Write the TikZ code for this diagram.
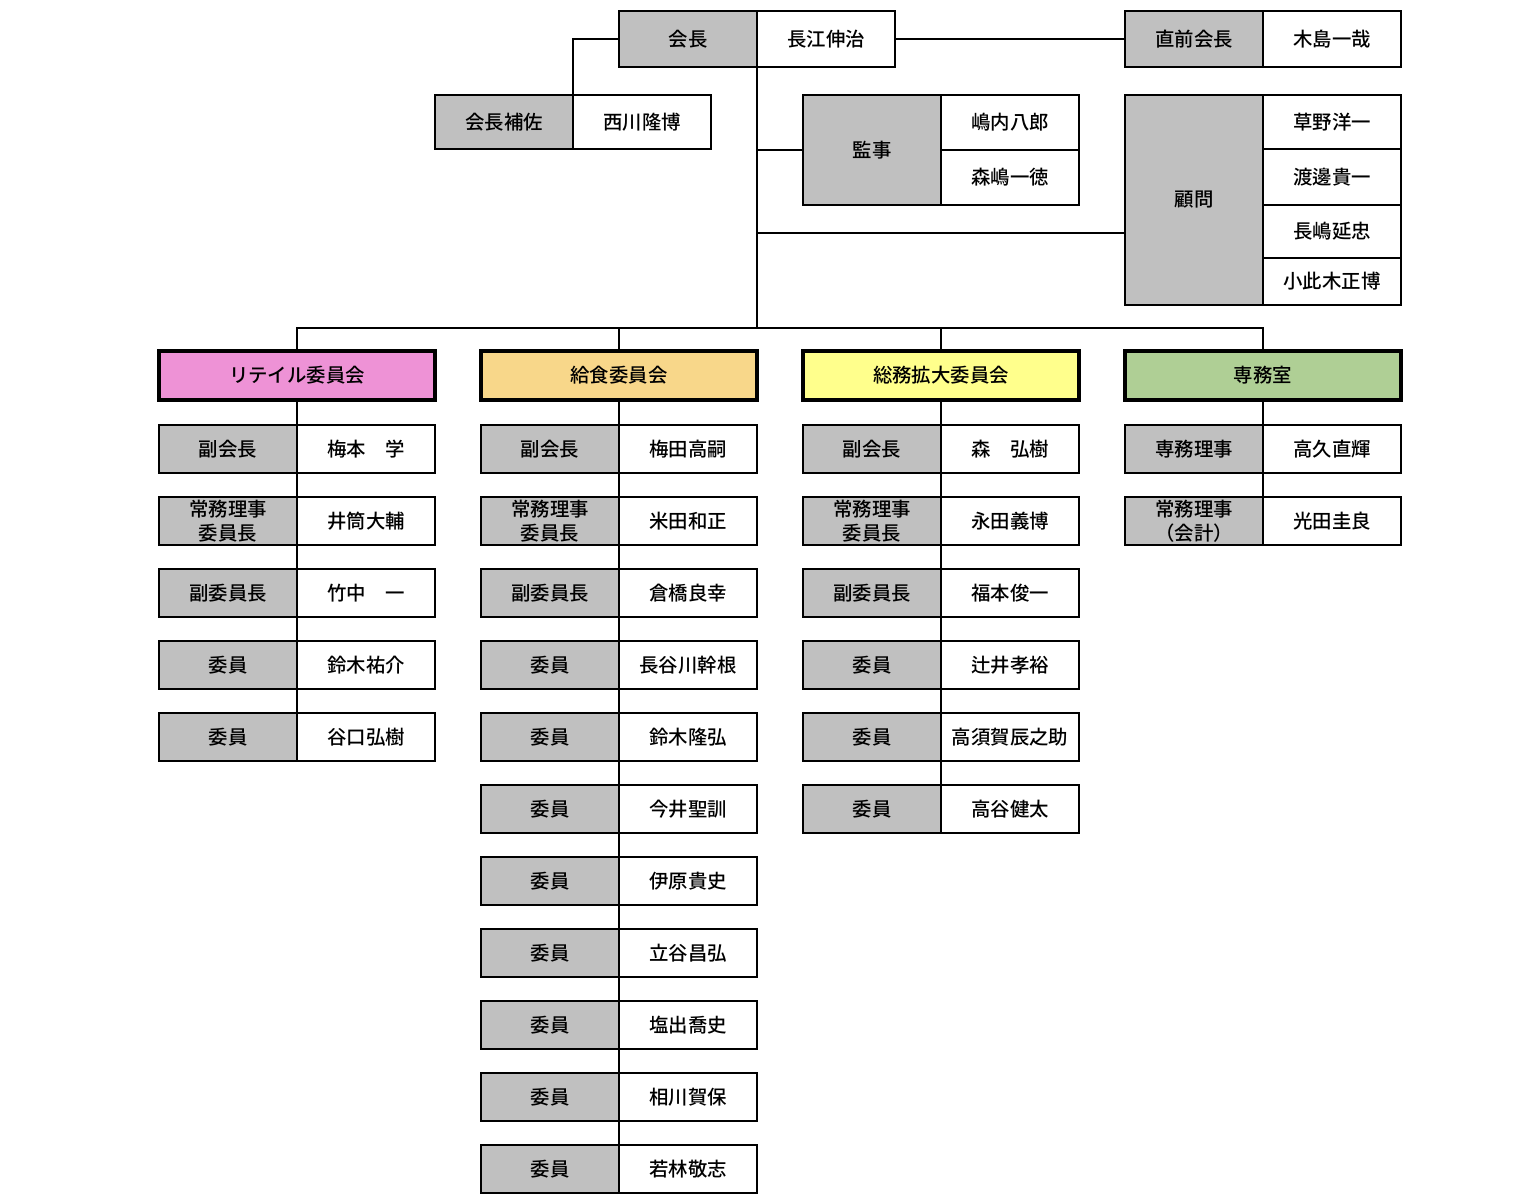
\documentclass[tikz,border=0pt]{standalone}
\usepackage{xcolor}
\usepackage{fontspec}
\setmainfont{Noto Sans CJK JP}[BoldFont={Noto Sans CJK JP Medium}]
\usepackage{tikz}
\usetikzlibrary{positioning,calc}
\definecolor{cellgray}{HTML}{C0C0C0}
\definecolor{retail}{HTML}{EE92D6}
\definecolor{kyusyoku}{HTML}{F8D78A}
\definecolor{somu}{HTML}{FFFF8C}
\definecolor{senmu}{HTML}{AFCF95}

\begin{document}
\begin{tikzpicture}[x=0.5pt,y=-0.5pt,line width=1pt,
   font=\fontsize{9.7}{12}\selectfont\bfseries,
   rl/.style={draw,fill=cellgray,minimum width=69pt,minimum height=24pt,inner sep=0pt,outer sep=0pt,align=center},
   nm/.style={draw,fill=white,minimum width=69pt,minimum height=24pt,inner sep=0pt,outer sep=0pt},
   hd/.style={draw,line width=1.8pt,minimum width=138pt,minimum height=24.5pt,inner sep=0pt,outer sep=0pt}]
  \useasboundingbox (0,0) rectangle (1522,1200);
  % top
  \node[rl,minimum height=28pt] (kc) at (688,39) {会長};
  \node[nm,minimum height=28pt] (kcn) at (826,39) {長江伸治};
  \node[rl,minimum height=28pt] (zk) at (1194,39) {直前会長};
  \node[nm,minimum height=28pt] (zkn) at (1332,39) {木島一哉};
  \node[rl,minimum height=27pt] (hs) at (504,122) {会長補佐};
  \node[nm,minimum height=27pt] (hsn) at (642,122) {西川隆博};
  \node[rl,minimum height=55pt] (ks) at (872,150) {監事};
  \node[nm,minimum height=27.5pt] (ks1) at (1010,122.5) {嶋内八郎};
  \node[nm,minimum height=27.5pt] (ks2) at (1010,177.5) {森嶋一徳};
  \node[rl,minimum height=105pt] (km) at (1194,200) {顧問};
  \node[nm,minimum height=27pt] (km1) at (1332,122) {草野洋一};
  \node[nm,minimum height=28pt] (km2) at (1332,177) {渡邊貴一};
  \node[nm,minimum height=26.5pt] (km3) at (1332,231.5) {長嶋延忠};
  \node[nm,minimum height=23.5pt] (km4) at (1332,281.5) {小此木正博};
  \coordinate (hub) at (757,328);
  \coordinate (kmin) at (1125,233);
  \draw (kc.west) -| (hs.north east);
  \draw (kcn.east) -- (zk.west);
  \draw (kc.south east) -- (hub);
  \draw (ks.west) -- (ks.west -| hub);
  \draw (kmin) -- (kmin -| hub);
  % committees
  \node[hd,fill=retail] (h1) at (297,375.5) {リテイル委員会};
  \node[hd,fill=kyusyoku] (h2) at (619,375.5) {給食委員会};
  \node[hd,fill=somu] (h3) at (941,375.5) {総務拡大委員会};
  \node[hd,fill=senmu] (h4) at (1263,375.5) {専務室};
  \draw (h1.north) |- (hub);
  \draw (h2.north) -- (h2.north |- hub);
  \draw (h3.north) -- (h3.north |- hub);
  \draw (h4.north) |- (hub);
  % retail
  \draw (h1.south) -- (297,713);
  \node[rl] (a1) at (228,449) {副会長};
  \node[nm] (a1n) at (366,449) {梅本　学};
  \node[rl] (a2) at (228,521) {常務理事\\委員長};
  \node[nm] (a2n) at (366,521) {井筒大輔};
  \node[rl] (a3) at (228,593) {副委員長};
  \node[nm] (a3n) at (366,593) {竹中　一};
  \node[rl] (a4) at (228,665) {委員};
  \node[nm] (a4n) at (366,665) {鈴木祐介};
  \node[rl] (a5) at (228,737) {委員};
  \node[nm] (a5n) at (366,737) {谷口弘樹};
  % kyusyoku
  \draw (h2.south) -- (619,1145);
  \node[rl] (b1) at (550,449) {副会長};
  \node[nm] (b1n) at (688,449) {梅田高嗣};
  \node[rl] (b2) at (550,521) {常務理事\\委員長};
  \node[nm] (b2n) at (688,521) {米田和正};
  \node[rl] (b3) at (550,593) {副委員長};
  \node[nm] (b3n) at (688,593) {倉橋良幸};
  \node[rl] (b4) at (550,665) {委員};
  \node[nm] (b4n) at (688,665) {長谷川幹根};
  \node[rl] (b5) at (550,737) {委員};
  \node[nm] (b5n) at (688,737) {鈴木隆弘};
  \node[rl] (b6) at (550,809) {委員};
  \node[nm] (b6n) at (688,809) {今井聖訓};
  \node[rl] (b7) at (550,881) {委員};
  \node[nm] (b7n) at (688,881) {伊原貴史};
  \node[rl] (b8) at (550,953) {委員};
  \node[nm] (b8n) at (688,953) {立谷昌弘};
  \node[rl] (b9) at (550,1025) {委員};
  \node[nm] (b9n) at (688,1025) {塩出喬史};
  \node[rl] (b10) at (550,1097) {委員};
  \node[nm] (b10n) at (688,1097) {相川賀保};
  \node[rl] (b11) at (550,1169) {委員};
  \node[nm] (b11n) at (688,1169) {若林敬志};
  % somu
  \draw (h3.south) -- (941,785);
  \node[rl] (c1) at (872,449) {副会長};
  \node[nm] (c1n) at (1010,449) {森　弘樹};
  \node[rl] (c2) at (872,521) {常務理事\\委員長};
  \node[nm] (c2n) at (1010,521) {永田義博};
  \node[rl] (c3) at (872,593) {副委員長};
  \node[nm] (c3n) at (1010,593) {福本俊一};
  \node[rl] (c4) at (872,665) {委員};
  \node[nm] (c4n) at (1010,665) {辻井孝裕};
  \node[rl] (c5) at (872,737) {委員};
  \node[nm] (c5n) at (1010,737) {高須賀辰之助};
  \node[rl] (c6) at (872,809) {委員};
  \node[nm] (c6n) at (1010,809) {高谷健太};
  % senmu
  \draw (h4.south) -- (1263,497);
  \node[rl] (d1) at (1194,449) {専務理事};
  \node[nm] (d1n) at (1332,449) {高久直輝};
  \node[rl] (d2) at (1194,521) {常務理事\\（会計）};
  \node[nm] (d2n) at (1332,521) {光田圭良};
\end{tikzpicture}
\end{document}
